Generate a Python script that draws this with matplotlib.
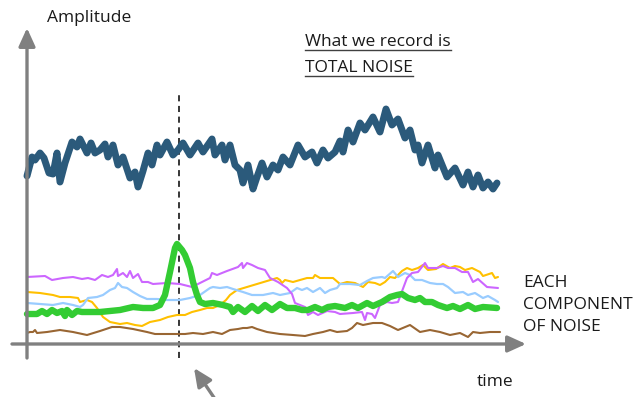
import numpy as np
import matplotlib
matplotlib.use("Agg")
from matplotlib import pyplot as plt

plt.rcParams['font.family'] = ['Open Sans', 'DejaVu Sans']

# time (px-like units from the vertical axis), amplitude (above the time axis)
total_t = [0, 5, 8, 13, 17, 22, 26, 30, 33, 38, 45, 50, 53, 60, 64, 68, 73, 78, 81, 86, 91, 96,
           103, 108, 111, 116, 121, 125, 130, 133, 140, 146, 151, 156, 163, 171, 176, 185, 188,
           195, 198, 203, 208, 213, 216, 221, 226, 230, 235, 240, 246, 251, 256, 263, 271, 278,
           285, 290, 296, 301, 308, 313, 316, 321, 326, 333, 338, 346, 353, 359, 365, 371, 378,
           383, 388, 391, 395, 401, 408, 411, 420, 428, 436, 441, 446, 451, 456, 461, 466, 470]
total_a = [168, 187, 184, 191, 186, 171, 170, 191, 162, 181, 202, 197, 205, 191, 201, 191, 194,
           200, 187, 199, 179, 187, 166, 172, 157, 173, 191, 179, 199, 189, 202, 189, 194, 201,
           189, 201, 192, 205, 189, 199, 184, 199, 179, 174, 161, 179, 155, 167, 181, 167, 179,
           174, 187, 179, 199, 187, 192, 181, 194, 186, 192, 203, 192, 214, 202, 221, 214, 227,
           212, 235, 219, 225, 206, 214, 194, 199, 181, 199, 176, 189, 167, 176, 159, 172, 157,
           169, 156, 162, 155, 161]

purple_t = [0, 18, 25, 36, 46, 55, 61, 68, 75, 81, 86, 90, 91, 96, 100, 103, 106, 111, 115, 121,
            126, 140, 153, 165, 183, 185, 190, 200, 211, 215, 216, 220, 225, 231, 238, 243, 251,
            260, 265, 268, 273, 278, 281, 286, 291, 300, 308, 313, 326, 335, 338, 340, 345, 348,
            353, 360, 365, 371, 380, 385, 391, 398, 401, 410, 416, 421, 428, 435, 441, 446, 451,
            460, 471]
purple_a = [67, 68, 64, 66, 67, 65, 66, 64, 69, 67, 69, 75, 68, 71, 67, 73, 66, 70, 62, 62, 60,
            61, 60, 57, 66, 71, 69, 73, 77, 81, 76, 81, 79, 76, 74, 66, 62, 56, 50, 41, 39, 37,
            29, 32, 29, 33, 32, 30, 31, 32, 24, 31, 30, 26, 39, 42, 41, 42, 66, 71, 72, 81, 76,
            76, 78, 76, 76, 72, 72, 62, 65, 57, 56]

yellow_t = [0, 13, 26, 33, 43, 51, 53, 60, 65, 70, 76, 83, 93, 100, 108, 115, 123, 133, 141, 150,
            158, 165, 173, 180, 186, 193, 199, 203, 210, 220, 230, 240, 250, 253, 255, 258, 266,
            280, 286, 288, 293, 306, 313, 320, 328, 336, 341, 348, 353, 358, 363, 368, 375, 380,
            385, 391, 396, 401, 409, 416, 423, 428, 433, 438, 445, 453, 456, 465, 468, 471]
yellow_a = [52, 51, 49, 47, 47, 46, 42, 44, 42, 36, 27, 22, 20, 21, 19, 18, 22, 24, 27, 29, 29,
            32, 34, 36, 36, 39, 44, 49, 54, 57, 60, 63, 66, 64, 61, 64, 62, 66, 66, 69, 66, 66,
            60, 62, 61, 57, 62, 61, 59, 62, 67, 66, 73, 76, 74, 76, 79, 74, 75, 80, 76, 78, 77,
            74, 76, 72, 68, 71, 66, 67]

lblue_t = [0, 13, 26, 36, 46, 53, 56, 61, 70, 76, 83, 88, 91, 95, 100, 106, 113, 120, 130, 140,
           153, 163, 173, 183, 186, 193, 200, 206, 216, 225, 236, 246, 253, 263, 270, 275, 280,
           286, 293, 298, 303, 310, 313, 323, 333, 340, 346, 355, 358, 366, 371, 378, 383, 388,
           395, 403, 410, 416, 421, 428, 436, 441, 448, 456, 461, 468, 471]
lblue_a = [41, 40, 39, 41, 39, 37, 39, 46, 47, 49, 54, 56, 61, 57, 56, 52, 48, 45, 45, 44, 44,
           46, 49, 56, 57, 56, 57, 55, 52, 49, 49, 51, 49, 51, 56, 54, 56, 52, 56, 51, 54, 56,
           60, 60, 59, 63, 66, 67, 66, 73, 67, 71, 69, 64, 64, 61, 60, 60, 57, 51, 52, 49, 51,
           46, 48, 44, 42]

green_t = [0, 10, 15, 20, 25, 30, 35, 38, 40, 45, 50, 55, 63, 73, 83, 93, 106, 116, 126, 133,
           138, 143, 148, 150, 155, 158, 163, 166, 170, 173, 178, 186, 196, 203, 206, 211, 218,
           225, 231, 238, 245, 253, 260, 268, 275, 281, 288, 295, 301, 308, 313, 318, 325, 331,
           340, 346, 355, 363, 370, 375, 381, 388, 393, 398, 405, 411, 420, 426, 433, 441, 448,
           456, 470]
green_a = [30, 30, 33, 30, 34, 31, 33, 28, 34, 29, 33, 32, 32, 32, 33, 34, 37, 36, 36, 39, 49,
           72, 96, 100, 94, 89, 76, 62, 49, 42, 40, 41, 39, 37, 32, 37, 32, 38, 33, 39, 34, 40,
           36, 36, 34, 34, 37, 34, 37, 38, 37, 36, 39, 36, 41, 38, 42, 47, 49, 50, 46, 44, 46,
           42, 42, 39, 36, 38, 35, 39, 35, 37, 36]

brown_t = [0, 3, 6, 8, 10, 20, 33, 46, 60, 73, 85, 93, 106, 120, 128, 143, 158, 166, 176, 186,
           195, 203, 211, 216, 220, 225, 230, 240, 253, 266, 278, 286, 296, 303, 310, 320, 325,
           330, 336, 346, 355, 363, 371, 383, 393, 403, 413, 423, 433, 441, 446, 453, 463, 473]
brown_a = [11, 12, 12, 14, 11, 12, 14, 12, 9, 13, 17, 17, 15, 12, 10, 10, 10, 11, 10, 12, 10, 14,
           15, 16, 16, 17, 15, 12, 10, 9, 8, 10, 12, 14, 12, 13, 16, 21, 19, 21, 21, 18, 14, 19,
           12, 14, 12, 9, 11, 7, 12, 11, 12, 12]

event_t = 152

fig = plt.figure(figsize=(6.41, 3.97), dpi=100)
ax = fig.add_axes([0, 0, 1, 1])
ax.set_xlim(-27, 614)
ax.set_ylim(-53, 344)
ax.axis('off')

grey = '#808080'
# axes with arrow heads
ax.annotate('', xy=(0, 316), xytext=(0, -14),
            arrowprops=dict(arrowstyle='-|>,head_length=1.1,head_width=0.5', color=grey, lw=2.4,
                            shrinkA=0, shrinkB=0))
ax.annotate('', xy=(499, 0), xytext=(-15, 0),
            arrowprops=dict(arrowstyle='-|>,head_length=1.1,head_width=0.5', color=grey, lw=2.4,
                            shrinkA=0, shrinkB=0))
ax.annotate('', xy=(167, -24), xytext=(190, -58),
            arrowprops=dict(arrowstyle='-|>,head_length=1.1,head_width=0.5', color=grey, lw=2.4,
                            shrinkA=0, shrinkB=0), annotation_clip=False)

ax.plot([event_t, event_t], [-14, 250], color='black', lw=1.1, ls=(0, (4, 3)))

kw = dict(solid_capstyle='round', solid_joinstyle='round')
ax.plot(brown_t, brown_a, color='#996633', lw=1.5, **kw)
ax.plot(yellow_t, yellow_a, color='#ffc000', lw=1.5, **kw)
ax.plot(lblue_t, lblue_a, color='#99ccff', lw=1.6, **kw)
ax.plot(purple_t, purple_a, color='#cc66ff', lw=1.5, **kw)
ax.plot(green_t, green_a, color='#33cc33', lw=4.6, **kw)
ax.plot(total_t, total_a, color='#2b5a7b', lw=5.0, **kw)

fs = 12.5
tc = '#1a1a1a'
ax.text(20, 326, 'Amplitude', fontsize=fs, color=tc, va='center')
ax.text(468, -38, 'time', fontsize=fs, color=tc, va='center', ha='center')
ax.text(496, 61, 'EACH', fontsize=fs, color=tc, va='center')
ax.text(496, 39, 'COMPONENT', fontsize=fs, color=tc, va='center')
ax.text(496, 17, 'OF NOISE', fontsize=fs, color=tc, va='center')

heads = [ax.text(278, 302, 'What we record is', fontsize=fs, color=tc, va='center'),
         ax.text(278, 276, 'TOTAL NOISE', fontsize=fs, color=tc, va='center')]
fig.canvas.draw()
inv = ax.transData.inverted()
for h in heads:
    bb = h.get_window_extent()
    (x0, _), (x1, _) = inv.transform([(bb.x0, 0), (bb.x1, 0)])
    y = h.get_position()[1] - 8
    ax.plot([x0, x1], [y, y], color='#404040', lw=1.0)

fig.savefig('out.png', dpi=100)
